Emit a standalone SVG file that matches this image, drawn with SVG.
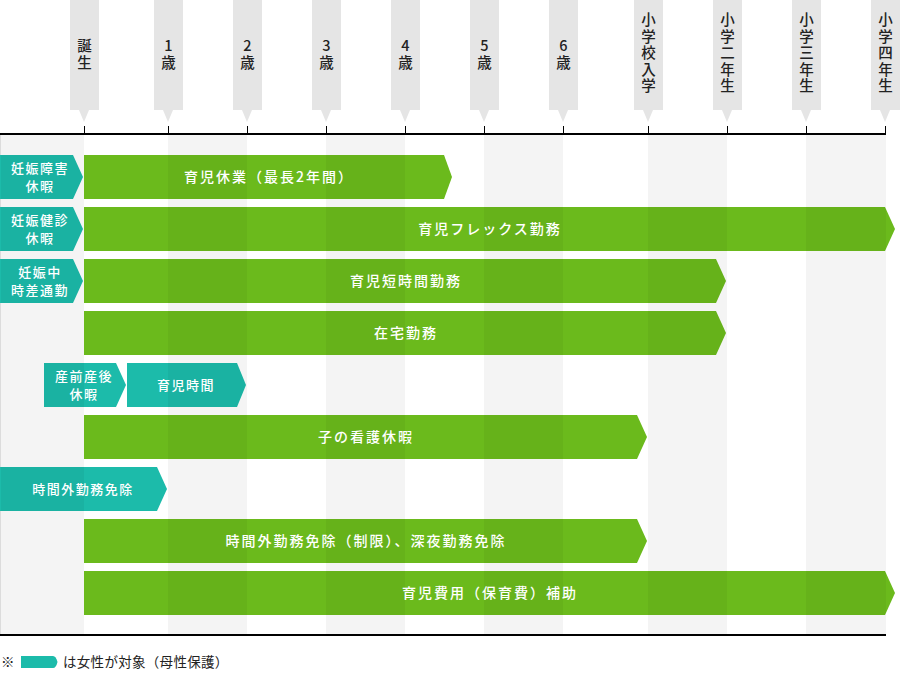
<svg xmlns="http://www.w3.org/2000/svg" width="901" height="675" viewBox="0 0 901 675">
<style>
.hd{fill:#e5e5e5}
.hdt{font-family:"Noto Sans CJK JP","Noto Sans",sans-serif;font-size:14.5px;font-weight:500;fill:#222;text-anchor:middle}
.g{fill:#6bba1c}
.t{fill:#1cbbaa}
.bt{font-family:"Noto Sans CJK JP","Noto Sans",sans-serif;font-size:14px;font-weight:500;fill:#fff;text-anchor:middle;letter-spacing:2px}
.lt{font-family:"Noto Sans CJK JP","Noto Sans",sans-serif;font-size:13px;font-weight:500;fill:#fff;text-anchor:middle;letter-spacing:1.5px}
.st{fill:#000;fill-opacity:0.045}
.ft{font-family:"Noto Sans CJK JP","Noto Sans",sans-serif;font-size:13.5px;fill:#222}
</style>
<rect width="901" height="675" fill="#fff"/>

<g id="header">
  <g id="m0"><rect class="hd" x="70" y="0" width="29" height="110"/><polygon class="hd" points="79,110 89,110 84,122"/><text class="hdt" x="84.5" y="51">誕<tspan x="84.5" dy="16.5">生</tspan></text></g>
  <g id="m1"><rect class="hd" x="154" y="0" width="29" height="110"/><polygon class="hd" points="163,110 173,110 168,122"/><text class="hdt" x="168.5" y="51">1<tspan x="168.5" dy="16.5">歳</tspan></text></g>
  <g id="m2"><rect class="hd" x="233" y="0" width="29" height="110"/><polygon class="hd" points="242,110 252,110 247,122"/><text class="hdt" x="247.5" y="51">2<tspan x="247.5" dy="16.5">歳</tspan></text></g>
  <g id="m3"><rect class="hd" x="312" y="0" width="29" height="110"/><polygon class="hd" points="321,110 331,110 326,122"/><text class="hdt" x="326.5" y="51">3<tspan x="326.5" dy="16.5">歳</tspan></text></g>
  <g id="m4"><rect class="hd" x="391" y="0" width="29" height="110"/><polygon class="hd" points="400,110 410,110 405,122"/><text class="hdt" x="405.5" y="51">4<tspan x="405.5" dy="16.5">歳</tspan></text></g>
  <g id="m5"><rect class="hd" x="470" y="0" width="29" height="110"/><polygon class="hd" points="479,110 489,110 484,122"/><text class="hdt" x="484.5" y="51">5<tspan x="484.5" dy="16.5">歳</tspan></text></g>
  <g id="m6"><rect class="hd" x="549" y="0" width="29" height="110"/><polygon class="hd" points="558,110 568,110 563,122"/><text class="hdt" x="563.5" y="51">6<tspan x="563.5" dy="16.5">歳</tspan></text></g>
  <g id="m7"><rect class="hd" x="634" y="0" width="29" height="110"/><polygon class="hd" points="643,110 653,110 648,122"/><text class="hdt" x="648.5" y="25">小<tspan x="648.5" dy="16.5">学</tspan><tspan x="648.5" dy="16.5">校</tspan><tspan x="648.5" dy="16.5">入</tspan><tspan x="648.5" dy="16.5">学</tspan></text></g>
  <g id="m8"><rect class="hd" x="713" y="0" width="29" height="110"/><polygon class="hd" points="722,110 732,110 727,122"/><text class="hdt" x="727.5" y="25">小<tspan x="727.5" dy="16.5">学</tspan><tspan x="727.5" dy="16.5">二</tspan><tspan x="727.5" dy="16.5">年</tspan><tspan x="727.5" dy="16.5">生</tspan></text></g>
  <g id="m9"><rect class="hd" x="792" y="0" width="29" height="110"/><polygon class="hd" points="801,110 811,110 806,122"/><text class="hdt" x="806.5" y="25">小<tspan x="806.5" dy="16.5">学</tspan><tspan x="806.5" dy="16.5">三</tspan><tspan x="806.5" dy="16.5">年</tspan><tspan x="806.5" dy="16.5">生</tspan></text></g>
  <g id="m10"><rect class="hd" x="871" y="0" width="29" height="110"/><polygon class="hd" points="880,110 890,110 885,122"/><text class="hdt" x="885.5" y="25">小<tspan x="885.5" dy="16.5">学</tspan><tspan x="885.5" dy="16.5">四</tspan><tspan x="885.5" dy="16.5">年</tspan><tspan x="885.5" dy="16.5">生</tspan></text></g>
</g>

<g id="axis" stroke="#000" fill="none">
  <path d="M84.5 126V133M168.5 126V133M247.5 126V133M326.5 126V133M405.5 126V133M484.5 126V133M563.5 126V133M648.5 126V133M727.5 126V133M806.5 126V133M885.5 126V133" stroke-width="1"/>
  <path d="M0 134H886M0 635H886" stroke-width="2"/>
  <path d="M0.5 135V634" stroke="#dcdcdc" stroke-width="1"/>
</g>

<g id="bars">
  <g id="b1"><polygon class="g" points="84,155 444,155 452,177 444,199 84,199"/></g>
  <g id="b2"><polygon class="g" points="84,207 885,207 895,229 885,251 84,251"/></g>
  <g id="b3"><polygon class="g" points="84,259 716,259 726,281 716,303 84,303"/></g>
  <g id="b4"><polygon class="g" points="84,311 716,311 726,333 716,355 84,355"/></g>
  <g id="b6"><polygon class="g" points="84,415 637,415 647,437 637,459 84,459"/></g>
  <g id="b8"><polygon class="g" points="84,519 637,519 647,541 637,563 84,563"/></g>
  <g id="b9"><polygon class="g" points="84,571 885,571 895,593 885,615 84,615"/></g>
  <g id="l1"><polygon class="t" points="0,155 73,155 83,177 73,199 0,199"/></g>
  <g id="l2"><polygon class="t" points="0,207 73,207 83,229 73,251 0,251"/></g>
  <g id="l3"><polygon class="t" points="0,259 73,259 83,281 73,303 0,303"/></g>
  <g id="l5a"><polygon class="t" points="44,363 116,363 126,385 116,407 44,407"/></g>
  <g id="l5b"><polygon class="t" points="127,363 237,363 246,385 237,407 127,407"/></g>
  <g id="l7"><polygon class="t" points="0,467 157,467 167,489 157,511 0,511"/></g>
</g>

<g id="stripes">
  <rect class="st" x="1" y="135" width="83" height="499"/>
  <rect class="st" x="168" y="135" width="79" height="499"/>
  <rect class="st" x="326" y="135" width="79" height="499"/>
  <rect class="st" x="484" y="135" width="79" height="499"/>
  <rect class="st" x="648" y="135" width="79" height="499"/>
  <rect class="st" x="806" y="135" width="80" height="499"/>
</g>

<g id="labels">
  <text class="bt" x="269" y="182">育児休業（最長2年間）</text>
  <text class="bt" x="490" y="234">育児フレックス勤務</text>
  <text class="bt" x="406" y="286">育児短時間勤務</text>
  <text class="bt" x="406" y="338">在宅勤務</text>
  <text class="bt" x="366" y="442">子の看護休暇</text>
  <text class="bt" x="366" y="546">時間外勤務免除（制限）、深夜勤務免除</text>
  <text class="bt" x="490" y="598">育児費用（保育費）補助</text>
  <text class="lt" x="40" y="173">妊娠障害<tspan x="40" dy="18">休暇</tspan></text>
  <text class="lt" x="40" y="225">妊娠健診<tspan x="40" dy="18">休暇</tspan></text>
  <text class="lt" x="40" y="277">妊娠中<tspan x="40" dy="18">時差通勤</tspan></text>
  <text class="lt" x="84" y="381">産前産後<tspan x="84" dy="18">休暇</tspan></text>
  <text class="lt" x="186" y="390">育児時間</text>
  <text class="lt" x="83" y="494">時間外勤務免除</text>
</g>

<g id="legend">
  <text class="ft" x="1" y="667">※</text>
  <path class="t" d="M21 656H53Q56 656 57.5 662Q56 668 53 668H21Z"/>
  <text class="ft" x="63" y="667" letter-spacing="0.3">は女性が対象（母性保護）</text>
</g>
</svg>
